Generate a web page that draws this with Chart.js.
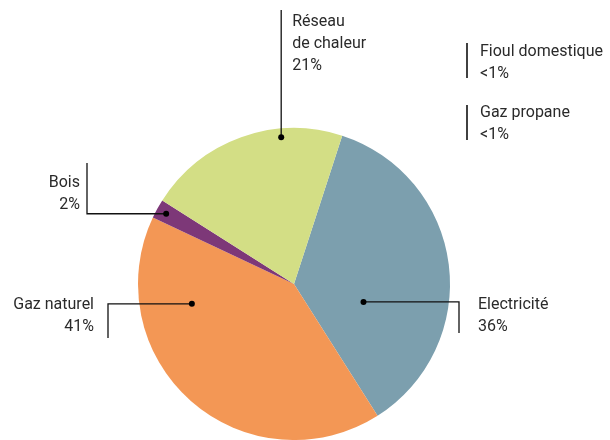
<!DOCTYPE html>
<html>
<head>
<meta charset="utf-8">
<script src="https://cdn.jsdelivr.net/npm/chart.js@4/dist/chart.umd.min.js"></script>
<style>
  html, body { margin: 0; padding: 0; background: #ffffff; }
  #wrap { width: 610px; height: 440px; position: relative; }
</style>
</head>
<body>
<div id="wrap"><canvas id="c" width="610" height="440"></canvas></div>
<script>
// ---- Data ----
const categories = ["Electricité", "Gaz naturel", "Bois", "Réseau de chaleur"];
const labelLines = [["Electricité"], ["Gaz naturel"], ["Bois"], ["Réseau", "de chaleur"]];
const shares = [36, 41, 2, 21];
const shareText = ["36%", "41%", "2%", "21%"];
// Categories below 1 % (not visible as slices)
const minorCategories = ["Fioul domestique", "Gaz propane"];
const minorShareText = ["<1%", "<1%"];

const colors = ["#7c9fae", "#f39755", "#7d3878", "#d3de85"];

// ---- Label layout (styles/positions, relative to pie centre and radius) ----
const layout = [
  { af: 0.667, rf: 0.46, kind: "h", ex: 165, ey: 49, align: "left", tx: 184, ty: 21 },
  { af: 0.755, rf: 0.667, kind: "h", ex: -186, ey: 54, align: "right", tx: -200, ty: 21 },
  { af: 0.5, rf: 0.935, kind: "hup", ex: -207, ey: -121, align: "right", tx: -214, ty: -101 },
  { af: 0.696, rf: 0.945, kind: "v", ey: -274, align: "left", tx: -1, ty: -262 }
];
const minorLayout = [
  { bx: 173, by0: -241, by1: -206, tx: 186, ty: -232 },
  { bx: 173, by0: -179, by1: -144, tx: 186, ty: -171 }
];

const FONT = "16px Roboto, 'DejaVu Sans', sans-serif";
const LINE_H = 22;

const labelPlugin = {
  id: "outLabels",
  afterDraw(chart) {
    const ctx = chart.ctx;
    const meta = chart.getDatasetMeta(0);
    const arcs = meta.data;
    if (!arcs.length) return;
    const cx = arcs[0].x, cy = arcs[0].y, R = arcs[0].outerRadius;
    ctx.save();
    ctx.font = FONT;
    ctx.fillStyle = "#2a2a2a";
    ctx.strokeStyle = "#111";
    ctx.lineWidth = 1.3;
    ctx.textBaseline = "middle";
    arcs.forEach((arc, i) => {
      const L = layout[i];
      const a = arc.startAngle + (arc.endAngle - arc.startAngle) * L.af;
      const r = R * L.rf;
      const dx = cx + Math.cos(a) * r;
      const dy = cy + Math.sin(a) * r;
      ctx.beginPath();
      if (L.kind === "v") {
        ctx.moveTo(dx, dy);
        ctx.lineTo(dx, cy + L.ey);
      } else {
        ctx.moveTo(dx, dy);
        ctx.lineTo(cx + L.ex, dy);
        ctx.lineTo(cx + L.ex, cy + L.ey);
      }
      ctx.stroke();
      ctx.beginPath();
      ctx.arc(dx, dy, 3, 0, Math.PI * 2);
      ctx.fillStyle = "#000";
      ctx.fill();
      ctx.fillStyle = "#2a2a2a";
      ctx.textAlign = L.align;
      const lines = labelLines[i].concat([shareText[i]]);
      const tx = (L.kind === "v") ? dx + 11 : cx + L.tx;
      lines.forEach((s, k) => {
        ctx.fillText(s, tx, cy + L.ty + k * LINE_H);
      });
    });
    minorCategories.forEach((name, i) => {
      const M = minorLayout[i];
      ctx.beginPath();
      ctx.lineWidth = 1.6;
      ctx.moveTo(cx + M.bx, cy + M.by0);
      ctx.lineTo(cx + M.bx, cy + M.by1);
      ctx.stroke();
      ctx.textAlign = "left";
      ctx.fillText(name, cx + M.tx, cy + M.ty);
      ctx.fillText(minorShareText[i], cx + M.tx, cy + M.ty + LINE_H);
    });
    ctx.restore();
  }
};

new Chart(document.getElementById("c"), {
  type: "pie",
  data: {
    labels: categories,
    datasets: [{
      data: shares,
      backgroundColor: colors,
      borderWidth: 0
    }]
  },
  options: {
    responsive: false,
    animation: false,
    rotation: 18,
    layout: { padding: { top: 128, bottom: 0, left: 138, right: 160 } },
    plugins: { legend: { display: false }, tooltip: { enabled: false } }
  },
  plugins: [labelPlugin]
});
</script>
</body>
</html>
